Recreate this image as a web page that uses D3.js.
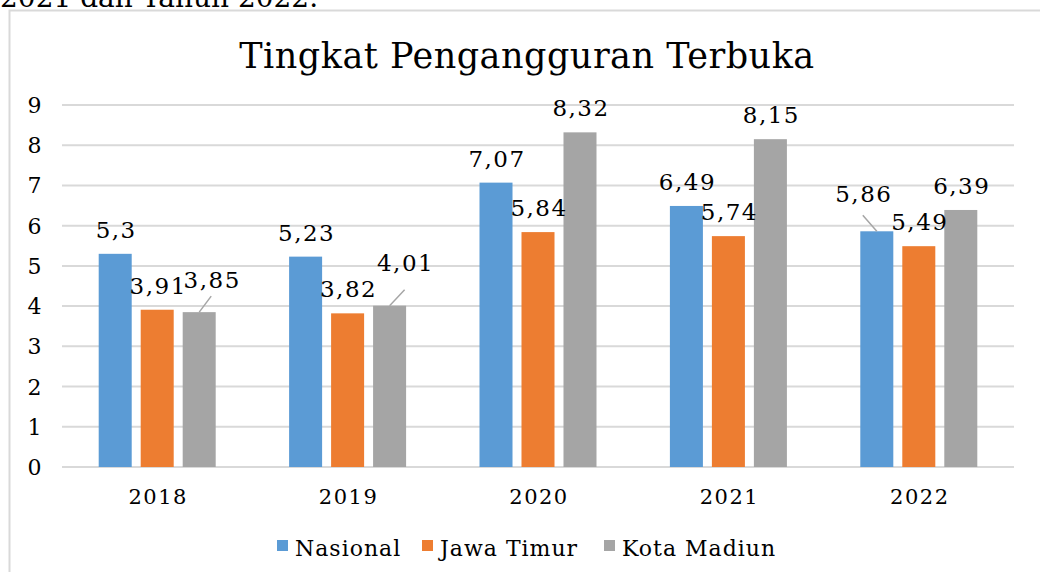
<!DOCTYPE html>
<html>
<head>
<meta charset="utf-8">
<script src="https://cdn.jsdelivr.net/npm/d3@7"></script>
<style>
  html, body { margin: 0; padding: 0; background: #fff; }
  svg { display: block; font-family: "DejaVu Serif", serif; }
</style>
</head>
<body>
<div id="graph"></div>
<script>
// data
const years = ["2018", "2019", "2020", "2021", "2022"];
const seriesNames = ["Nasional", "Jawa Timur", "Kota Madiun"];
const nasional = [5.3, 5.23, 7.07, 6.49, 5.86];
const jawaTimur = [3.91, 3.82, 5.84, 5.74, 5.49];
const kotaMadiun = [3.85, 4.01, 8.32, 8.15, 6.39];
const yTicks = [0, 1, 2, 3, 4, 5, 6, 7, 8, 9];

// labels Excel nudged away from the bar (series index-year index -> pixel offset)
const labelNudge = {
    "2-0": [12, -8],
    "2-1": [15, -19],
    "0-4": [-14, -13]
};

const colors = ["#5b9bd5", "#ed7d31", "#a5a5a5"];
const series = [nasional, jawaTimur, kotaMadiun];

const width = 1040, height = 572;
const margin = {top: 105, right: 26, bottom: 105, left: 62};
const groupW = 117;

const svg = d3.select("#graph").append("svg")
    .attr("width", width)
    .attr("height", height);

// text cut off at the top of the page crop
svg.append("text")
    .attr("x", 0).attr("y", 7)
    .attr("font-size", 28)
    .attr("fill", "#000")
    .text("2021 dan Tahun 2022.");

// chart frame
svg.append("path")
    .attr("d", "M9.5,572 V10.5 H1040")
    .attr("fill", "none")
    .attr("stroke", "#d9d9d9")
    .attr("stroke-width", 2);

svg.append("text")
    .attr("x", 527).attr("y", 68)
    .attr("text-anchor", "middle")
    .attr("font-size", 35)
    .attr("letter-spacing", 0.5)
    .attr("fill", "#000")
    .text("Tingkat Pengangguran Terbuka");

const x0 = d3.scaleBand()
    .domain(years)
    .range([margin.left, width - margin.right]);

const x1 = d3.scaleBand()
    .domain(d3.range(seriesNames.length))
    .range([0, groupW])
    .paddingInner(0.214);

const y = d3.scaleLinear()
    .domain([0, 9])
    .range([height - margin.bottom, margin.top]);

// gridlines
svg.append("g")
    .selectAll("line")
    .data(yTicks)
    .join("line")
    .attr("x1", margin.left)
    .attr("x2", width - margin.right)
    .attr("y1", d => y(d))
    .attr("y2", d => y(d))
    .attr("stroke", "#d9d9d9")
    .attr("stroke-width", 2);

// y axis labels
svg.append("g")
    .selectAll("text")
    .data(yTicks)
    .join("text")
    .attr("x", 35)
    .attr("y", d => y(d) + 8)
    .attr("text-anchor", "middle")
    .attr("font-size", 22)
    .attr("letter-spacing", 1)
    .attr("fill", "#000")
    .text(d => d);

// x axis labels
svg.append("g")
    .selectAll("text")
    .data(years)
    .join("text")
    .attr("x", d => x0(d) + x0.bandwidth() / 2 + 1)
    .attr("y", 504)
    .attr("text-anchor", "middle")
    .attr("font-size", 21)
    .attr("letter-spacing", 1.5)
    .attr("fill", "#000")
    .text(d => d);

const fmt = v => String(v).replace(".", ",");

const groups = svg.append("g")
    .selectAll("g")
    .data(years)
    .join("g")
    .attr("transform", d => "translate(" + (x0(d) + (x0.bandwidth() - groupW) / 2) + ",0)");

groups.selectAll("rect")
    .data((d, i) => series.map((s, k) => ({k: k, i: i, v: s[i]})))
    .join("rect")
    .attr("x", d => x1(d.k))
    .attr("width", x1.bandwidth())
    .attr("y", d => y(d.v))
    .attr("height", d => y(0) - y(d.v))
    .attr("fill", d => colors[d.k]);

// leader lines for nudged labels
groups.selectAll("line.leader")
    .data((d, i) => series.map((s, k) => ({k: k, i: i, v: s[i]}))
        .filter(d => labelNudge[d.k + "-" + d.i]))
    .join("line")
    .attr("class", "leader")
    .attr("x1", d => x1(d.k) + x1.bandwidth() / 2)
    .attr("y1", d => y(d.v))
    .attr("x2", d => x1(d.k) + x1.bandwidth() / 2 + labelNudge[d.k + "-" + d.i][0])
    .attr("y2", d => y(d.v) - 16)
    .attr("stroke", "#a5a5a5")
    .attr("stroke-width", 1.5);

groups.selectAll("text.val")
    .data((d, i) => series.map((s, k) => ({k: k, i: i, v: s[i]})))
    .join("text")
    .attr("class", "val")
    .attr("x", d => {
        const n = labelNudge[d.k + "-" + d.i];
        return x1(d.k) + x1.bandwidth() / 2 + 1 + (n ? n[0] : 0);
    })
    .attr("y", d => {
        const n = labelNudge[d.k + "-" + d.i];
        return y(d.v) - 16 + (n ? n[1] : 0);
    })
    .attr("text-anchor", "middle")
    .attr("font-size", 23)
    .attr("letter-spacing", 1.5)
    .attr("fill", "#000")
    .text(d => fmt(d.v));

// legend
const legendX = [277, 422, 604];
const legend = svg.append("g")
    .selectAll("g")
    .data(seriesNames)
    .join("g")
    .attr("transform", (d, i) => "translate(" + legendX[i] + ",540)");

legend.append("rect")
    .attr("width", 11).attr("height", 11)
    .attr("fill", (d, i) => colors[i]);

legend.append("text")
    .attr("x", 18).attr("y", 16)
    .attr("font-size", 22)
    .attr("letter-spacing", 1)
    .attr("fill", "#000")
    .text(d => d);
</script>
</body>
</html>
